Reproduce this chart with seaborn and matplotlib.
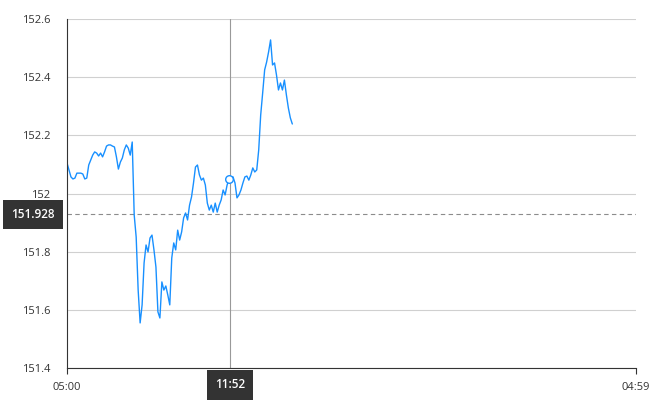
import numpy as np
import pandas as pd
import matplotlib.pyplot as plt
import seaborn as sns

# time axis: minutes after 05:00, one trading day
start_label = "05:00"
end_label = "04:59"
last_minute = 1439
step_minutes = 5

# price every 5 minutes from 05:00
prices = [
    152.105, 152.081, 152.057, 152.050, 152.053, 152.070, 152.070, 152.070,
    152.067, 152.050, 152.053, 152.098, 152.115, 152.132, 152.143, 152.139,
    152.129, 152.139, 152.126, 152.143, 152.163, 152.167, 152.167, 152.163,
    152.160, 152.126, 152.084, 152.108, 152.122, 152.150, 152.167, 152.156,
    152.132, 152.177, 151.926, 151.850, 151.668, 151.555, 151.617, 151.761,
    151.823, 151.799, 151.847, 151.857, 151.806, 151.747, 151.593, 151.572,
    151.696, 151.668, 151.682, 151.651, 151.617, 151.778, 151.830, 151.806,
    151.874, 151.840, 151.868, 151.916, 151.933, 151.909, 151.960, 151.988,
    152.036, 152.091, 152.098, 152.064, 152.046, 152.053, 152.029, 151.967,
    151.943, 151.960, 151.936, 151.967, 151.936, 151.960, 151.978, 152.012,
    151.995, 152.029, 152.050, 152.057, 152.057, 152.036, 151.985, 151.995,
    152.012, 152.036, 152.057, 152.060, 152.046, 152.064, 152.088, 152.074,
    152.081, 152.150, 152.270, 152.346, 152.425, 152.452, 152.487, 152.528,
    152.442, 152.449, 152.407, 152.356, 152.380, 152.356, 152.390, 152.339,
    152.294, 152.260, 152.239,
]

y_ticks = [151.4, 151.6, 151.8, 152.0, 152.2, 152.4, 152.6]

# crosshair (hover) values
hover_label = "11:52"
hover_minute = 412
hover_price = 151.928

df = pd.DataFrame({
    "minute": np.arange(len(prices)) * step_minutes,
    "price": prices,
})

sns.set_theme(style="white")
plt.rcParams['font.family'] = ['Open Sans', 'DejaVu Sans']

fig = plt.figure(figsize=(6.7, 4), dpi=100)
ax = fig.add_axes([0.1, 0.08, 0.849, 0.8725])

sns.lineplot(data=df, x="minute", y="price", color="#1890ff", linewidth=1, ax=ax)

# crosshair lines
ax.axvline(hover_minute, color="#999999", linewidth=0.8, zorder=1)
ax.axhline(hover_price, color="#8c8c8c", linewidth=0.8, linestyle=(0, (4, 3)), zorder=1)

# hollow circle on the hovered point
idx = int(round(hover_minute / step_minutes))
ax.scatter([df["minute"][idx]], [df["price"][idx]], s=30, facecolor="white",
           edgecolor="#1890ff", linewidth=1, zorder=4)

ax.set_xlim(0, last_minute)
ax.set_ylim(y_ticks[0], y_ticks[-1])
ax.set_xticks([0, last_minute])
ax.set_xticklabels([start_label, end_label])
ax.set_yticks(y_ticks)
ax.set_yticklabels([f"{v:g}" for v in y_ticks])
ax.set_xlabel("")
ax.set_ylabel("")

ax.yaxis.grid(True, color="#d0d0d0", linewidth=0.8)
ax.xaxis.grid(False)
ax.set_axisbelow(True)
sns.despine(ax=ax, top=True, right=True)
for side in ["left", "bottom"]:
    ax.spines[side].set_color("#333333")
    ax.spines[side].set_linewidth(0.8)

ax.tick_params(axis="x", bottom=True, length=4, width=0.8, color="#333333",
               labelsize=8, labelcolor="#333333", pad=6)
ax.tick_params(axis="y", left=False, labelsize=8, labelcolor="#333333", pad=6)

# crosshair labels
box = dict(boxstyle="square,pad=0.7", facecolor="#333333", edgecolor="none")
ax.text(-0.06, hover_price, f"{hover_price:.3f}", transform=ax.get_yaxis_transform(),
        ha="center", va="center", color="white", fontsize=8.5, fontweight="semibold",
        bbox=box, zorder=10, clip_on=False)
ax.text(hover_minute, -0.048, hover_label, transform=ax.get_xaxis_transform(),
        ha="center", va="center", color="white", fontsize=8.5, fontweight="semibold",
        bbox=box, zorder=10, clip_on=False)

fig.savefig("out.png", dpi=100)
